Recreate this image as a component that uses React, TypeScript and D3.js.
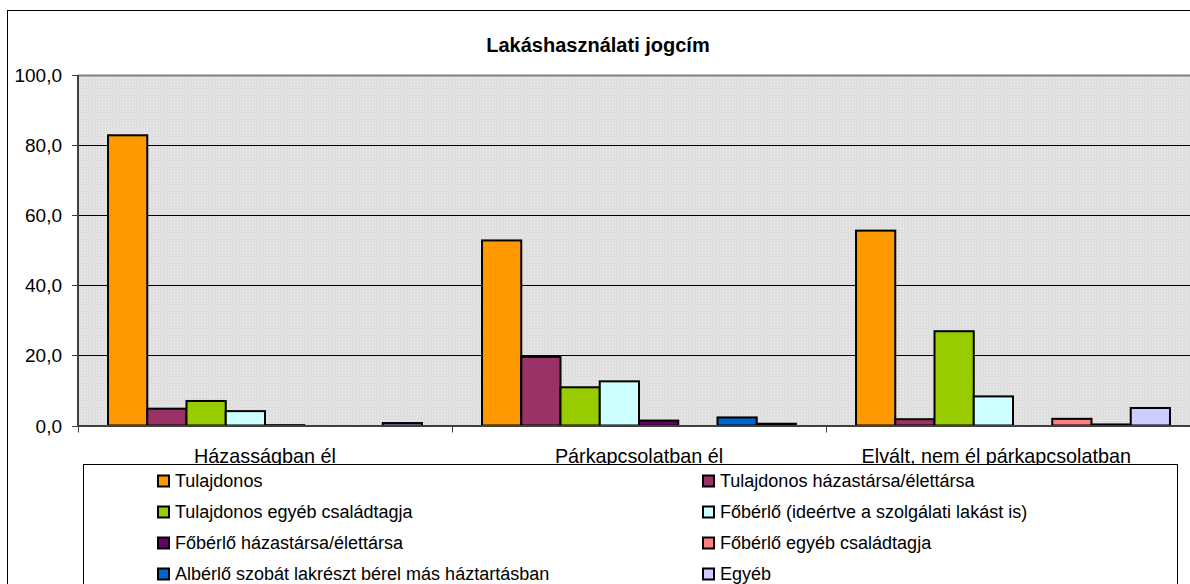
import React from "react";
import * as d3 from "d3";

const title = "Lakáshasználati jogcím";
const categories = ["Házasságban él", "Párkapcsolatban él", "Elvált, nem él párkapcsolatban"];
const seriesNames = [
  "Tulajdonos",
  "Tulajdonos házastársa/élettársa",
  "Tulajdonos egyéb családtagja",
  "Főbérlő (ideértve a szolgálati lakást is)",
  "Főbérlő házastársa/élettársa",
  "Főbérlő egyéb családtagja",
  "Albérlő szobát lakrészt bérel más háztartásban",
  "Egyéb",
];
const seriesColors = ["#FF9900", "#993366", "#99CC00", "#CCFFFF", "#660066", "#FF8080", "#0066CC", "#CCCCFF"];
// values[series][category]
const tulajdonos = [82.8, 52.8, 55.6];
const tulajHazastars = [4.8, 19.6, 1.8];
const tulajEgyeb = [7.0, 10.9, 26.9];
const foberlo = [4.1, 12.6, 8.3];
const foberloHazastars = [0.1, 1.4, 0];
const foberloEgyeb = [0, 0, 1.9];
const alberlo = [0, 2.3, 0.3];
const egyeb = [0.7, 0.5, 5.0];
const seriesValues = [tulajdonos, tulajHazastars, tulajEgyeb, foberlo, foberloHazastars, foberloEgyeb, alberlo, egyeb];
const yTicks = [0, 20, 40, 60, 80, 100];

const W = 1190;
const H = 584;
const FONT = "'Liberation Sans', Arial, sans-serif";

function measure(text: string, size: number): number {
  const c = document.createElement("canvas").getContext("2d");
  if (!c) return text.length * size * 0.5;
  c.font = `${size}px 'Liberation Sans', Arial, sans-serif`;
  return c.measureText(text).width;
}

export default function App() {
  const plotLeft = 78;
  const plotTop = 75;
  const plotBottom = 425.5;
  const groupW = 374;
  const plotRight = plotLeft + groupW * categories.length;
  const labelMaxRight = 1131;
  const labelSize = 19.8;

  const x0 = d3.scaleBand<string>().domain(categories).range([plotLeft, plotRight]).paddingInner(0).paddingOuter(0);
  const x1 = d3.scaleBand<string>().domain(seriesNames).range([0, x0.bandwidth()]).paddingInner(0).paddingOuter(0.765);
  const y = d3.scaleLinear().domain([0, 100]).range([plotBottom, plotTop]);

  const fmt = (v: number) => d3.format(".1f")(v).replace(".", ",");

  const legendTop = 464;
  const legendRows = [481, 512, 543, 574];
  const legendCols = [158, 703];

  return (
    <div style={{ position: "absolute", left: 0, top: 0 }}>
      <svg width={W} height={H} style={{ display: "block", background: "#fff" }}>
        <defs>
          <pattern id="dots" width="3" height="3" patternUnits="userSpaceOnUse">
            <rect width="3" height="3" fill="#dcdcdc" />
            <rect x="0" y="0" width="1" height="1" fill="#f4f4f4" />
            <rect x="1.5" y="1.5" width="1" height="1" fill="#eeeeee" />
          </pattern>
          <clipPath id="plotclip">
            <rect x={plotLeft} y={plotTop - 2} width={plotRight - plotLeft} height={plotBottom - plotTop + 4} />
          </clipPath>
        </defs>
        {/* outer chart border */}
        <rect x={7.5} y={10.5} width={1200} height={600} fill="#fff" stroke="#000" strokeWidth={1} />
        {/* title */}
        <text x={598} y={52} textAnchor="middle" fontFamily={FONT} fontWeight="bold" fontSize={20} fill="#000">
          {title}
        </text>
        {/* plot area */}
        <rect x={plotLeft} y={plotTop} width={plotRight - plotLeft} height={plotBottom - plotTop} fill="url(#dots)" />
        <line x1={plotLeft} x2={plotRight} y1={plotTop + 0.5} y2={plotTop + 0.5} stroke="#808080" strokeWidth={2} />
        {yTicks.filter((t) => t > 0 && t < 100).map((t) => (
          <line key={t} x1={plotLeft} x2={plotRight} y1={Math.round(y(t)) + 0.5} y2={Math.round(y(t)) + 0.5} stroke="#000" strokeWidth={1} />
        ))}
        {/* bars */}
        <g clipPath="url(#plotclip)">
          {categories.map((c, ci) =>
            seriesNames.map((s, si) => {
              const v = seriesValues[si][ci];
              if (v <= 0) return null;
              const bx = (x0(c) as number) + (x1(s) as number);
              const by = y(v);
              return (
                <rect
                  key={c + s}
                  x={bx}
                  y={by}
                  width={x1.bandwidth()}
                  height={plotBottom - by}
                  fill={seriesColors[si]}
                  stroke="#000"
                  strokeWidth={2}
                />
              );
            })
          )}
        </g>
        {/* axes */}
        <line x1={plotLeft} x2={plotLeft} y1={plotTop} y2={plotBottom + 1} stroke="#404040" strokeWidth={2} />
        <line x1={plotLeft} x2={plotRight} y1={plotBottom + 0.5} y2={plotBottom + 0.5} stroke="#404040" strokeWidth={2} />
        {yTicks.map((t) => (
          <g key={t}>
            <line x1={plotLeft - 6} x2={plotLeft} y1={Math.round(y(t)) + 0.5} y2={Math.round(y(t)) + 0.5} stroke="#404040" strokeWidth={1} />
            <text x={62} y={y(t) + 7} textAnchor="end" fontFamily={FONT} fontSize={19} fill="#000">
              {fmt(t)}
            </text>
          </g>
        ))}
        {categories.map((c) => {
          const center = (x0(c) as number) + x0.bandwidth() / 2;
          const w = measure(c, labelSize);
          const cx = Math.min(center, labelMaxRight - w / 2);
          return (
            <g key={c}>
              <line x1={(x0(c) as number) + 0.5} x2={(x0(c) as number) + 0.5} y1={plotBottom} y2={plotBottom + 7} stroke="#404040" strokeWidth={1} />
              <text x={cx} y={463} textAnchor="middle" fontFamily={FONT} fontSize={labelSize} fill="#000">
                {c}
              </text>
            </g>
          );
        })}
        <line x1={plotRight - 0.5} x2={plotRight - 0.5} y1={plotBottom} y2={plotBottom + 7} stroke="#404040" strokeWidth={1} />
        {/* legend */}
        <rect x={83.5} y={legendTop + 0.5} width={1094} height={200} fill="#fff" stroke="#000" strokeWidth={1} />
        {seriesNames.map((s, i) => {
          const col = i % 2;
          const row = Math.floor(i / 2);
          const lx = legendCols[col];
          const ly = legendRows[row];
          return (
            <g key={s}>
              <rect x={lx} y={ly - 5.5} width={11} height={11} fill={seriesColors[i]} stroke="#000" strokeWidth={2} />
              <text x={lx + 17} y={ly + 6} fontFamily={FONT} fontSize={18} fill="#000">
                {s}
              </text>
            </g>
          );
        })}
      </svg>
    </div>
  );
}
